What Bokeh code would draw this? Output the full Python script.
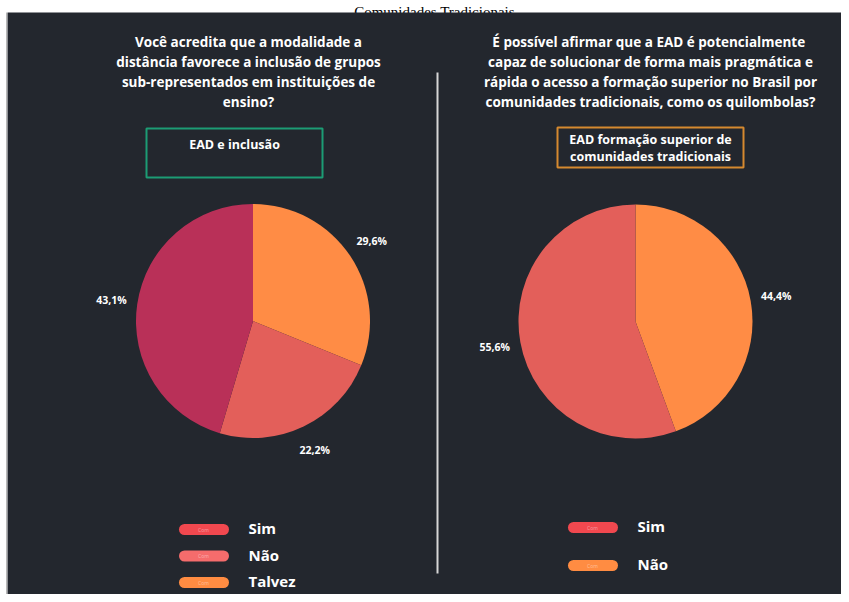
import math
from bokeh.plotting import figure
from bokeh.models import Range1d
from bokeh.core.properties import value
from bokeh.embed import file_html
from bokeh.resources import INLINE

# ---------------- data ----------------
main_title = "Comunidades Tradicionais"

q1_title = ["Você acredita que a modalidade a",
            "distância favorece a inclusão de grupos",
            "sub-representados em instituições de",
            "ensino?"]
q1_box = ["EAD e inclusão"]
q1_categories = ["Talvez", "Não", "Sim"]
q1_values = [29.6, 22.2, 43.1]
q1_labels = ["29,6%", "22,2%", "43,1%"]
q1_colors = ["#FF8C45", "#E35F5A", "#B93058"]
q1_legend = ["Sim", "Não", "Talvez"]
q1_legend_colors = ["#F1484F", "#F56C6C", "#FF8C42"]

q2_title = ["É possível afirmar que a EAD  é potencialmente",
            "capaz de solucionar de forma mais pragmática e",
            "rápida o acesso a formação superior no Brasil por",
            "comunidades tradicionais, como os quilombolas?"]
q2_box = ["EAD formação superior de", "comunidades tradicionais"]
q2_categories = ["Não", "Sim"]
q2_values = [44.4, 55.6]
q2_labels = ["44,4%", "55,6%"]
q2_colors = ["#FF8C45", "#E35F5A"]
q2_legend = ["Sim", "Não"]
q2_legend_colors = ["#F1484F", "#FF8C42"]

# ---------------- figure ----------------
W, H = 841, 594
BG = "#23272E"
FONT = "Open Sans"


def X(px):
    return px


def Y(py):
    return H - py


p = figure(width=W, height=H, x_range=Range1d(0, W), y_range=Range1d(0, H),
           output_backend="svg", toolbar_location=None, min_border=0,
           x_axis_type=None, y_axis_type=None)
p.grid.visible = False
p.outline_line_color = None
p.background_fill_color = "white"
p.border_fill_color = "white"

# top document title (in the white band)
p.text(x=[X(434)], y=[Y(11.5)], text=[main_title], text_font=value("Liberation Serif"),
       text_font_size="15px", text_color="black", text_align="center",
       text_baseline="alphabetic")

# dark panel
p.quad(left=[X(7)], right=[W], top=[Y(12)], bottom=[0], fill_color=BG, line_color=None)
p.segment(x0=[X(6)], y0=[Y(12)], x1=[X(6)], y1=[0], line_color="#B8B8B8", line_width=1)

# divider
p.segment(x0=[X(437)], y0=[Y(72)], x1=[X(437)], y1=[Y(573)],
          line_color="#D6D6D6", line_width=2)


def title_block(lines, cx, top, step, size):
    p.text(x=[X(cx)] * len(lines), y=[Y(top + step * i) for i in range(len(lines))],
           text=lines, text_font=value(FONT), text_font_style="bold",
           text_font_size=size, text_color="white", text_align="center",
           text_baseline="middle")


def pie(cx, cy, r, vals, colors, labels):
    total = sum(vals)
    cum = 0.0
    starts, ends, lx, ly = [], [], [], []
    for v in vals:
        a0 = math.pi / 2 - 2 * math.pi * cum / total
        cum += v
        a1 = math.pi / 2 - 2 * math.pi * cum / total
        starts.append(a0)
        ends.append(a1)
        mid = (a0 + a1) / 2
        lx.append(X(cx) + (r + 26) * math.cos(mid))
        ly.append(Y(cy) + (r + 26) * math.sin(mid))
    p.wedge(x=X(cx), y=Y(cy), radius=r, start_angle=starts, end_angle=ends,
            direction="clock", fill_color=colors, line_color=None)
    p.text(x=lx, y=ly, text=labels, text_font=value(FONT), text_font_style="bold",
           text_font_size="10.5px", text_color="white", text_align="center",
           text_baseline="middle")


def legend(names, colors, x0, y0, gap):
    ys = [Y(y0 + gap * i) for i in range(len(names))]
    p.segment(x0=[X(x0 + 6)] * len(names), y0=ys, x1=[X(x0 + 45)] * len(names), y1=ys,
              line_color=colors, line_width=11, line_cap="round")
    p.text(x=[X(x0 + 25)] * len(names), y=ys, text=["Com"] * len(names),
           text_font=value(FONT), text_font_size="5px", text_color="white",
           text_alpha=0.45, text_align="center", text_baseline="middle")
    p.text(x=[X(x0 + 70)] * len(names), y=[y + 1.5 for y in ys], text=names,
           text_font=value(FONT), text_font_style="bold", text_font_size="15px",
           text_color="white", text_align="left", text_baseline="middle")


# left panel
title_block(q1_title, 248, 41, 20, "13.5px")
p.quad(left=[X(146)], right=[X(322)], top=[Y(128)], bottom=[Y(177)],
       fill_alpha=0, line_color="#1C9C74", line_width=2)
title_block(q1_box, 234, 144, 17, "12.5px")
pie(252.5, 320.5, 117, q1_values, q1_colors, q1_labels)
legend(q1_legend, q1_legend_colors, 178, 529, 26.5)

# right panel
title_block(q2_title, 650, 41, 20, "13.5px")
p.quad(left=[X(557)], right=[X(743)], top=[Y(127)], bottom=[Y(167)],
       fill_alpha=0, line_color="#D5892F", line_width=2)
title_block(q2_box, 650, 139, 17, "12.5px")
pie(635, 321, 117, q2_values, q2_colors, q2_labels)
legend(q2_legend, q2_legend_colors, 567, 527, 38)

open("out.html", "w").write(file_html(p, INLINE))
